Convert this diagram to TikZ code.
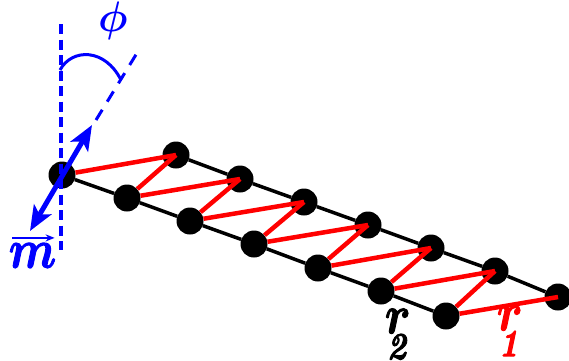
\documentclass[tikz,border=0pt]{standalone}
\usepackage{amsmath}
\usetikzlibrary{arrows.meta}
\newcommand{\heavy}[1]{\special{pdf:code 2 Tr 0.5 w}#1\special{pdf:code 0 Tr}}
\newcommand{\bondlabel}[2]{\heavy{$#1\mkern-8mu_{\lower 8pt\hbox{$\scriptscriptstyle\mathit{#2}$}}$}}
\begin{document}
\begin{tikzpicture}[x=1pt,y=-1pt]
    \tikzset{
        site/.style={circle, fill=black, inner sep=0pt, minimum size=27pt},
        leg/.style={line width=3.5pt, black},
        hop/.style={line width=4.5pt, red},
        guide/.style={line width=3.5pt, blue, dash pattern=on 10pt off 5.5pt},
        tilt/.style={line width=3pt, blue, dash pattern=on 12pt off 9.5pt},
        moment/.style={line width=5pt, blue, {Stealth[length=25pt,width=20pt,inset=6pt]}-{Stealth[length=25pt,width=20pt,inset=6pt]}},
        label/.style={inner sep=0pt, xscale=1.85, yscale=2.2, font=\Huge\boldmath}
    }
    \useasboundingbox (0,0) rectangle (569,360);

    \foreach \name/\x/\y in {%
        t1/176/155, t2/240/179, t3/304/202, t4/368/225, t5/431/248, t6/495/271, t7/558/297,%
        b1/62/175, b2/127/198, b3/190/221, b4/254/244, b5/318/268, b6/381/291, b7/446/316%
    }{
    \node[site] (\name) at (\x,\y) {};
    }
    \foreach \x/\y in {%
        b1/t1, b2/t1, b2/t2, b3/t2, b3/t3, b4/t3, b4/t4, b5/t4, b5/t5, b6/t5, b6/t6, b7/t6, b7/t7%
    }{
    \draw[hop] (\x) -- (\y.center);
    }
    \foreach \x/\y in {%
        t1/t2, t2/t3, t3/t4, t4/t5, t5/t6, t6/t7, b1/b2, b2/b3, b3/b4, b4/b5, b5/b6, b6/b7%
    }{
    \draw[leg] (\x) -- (\y);
    }

    % axes and the moment
    \coordinate (up) at (61,24);
    \coordinate (down) at (61,250);
    \coordinate (tiltstart) at (96,120);
    \coordinate (tiltend) at (137,53);
    \coordinate (arcstart) at (60,70);
    \coordinate (arcend) at (121,80);
    \coordinate (momenttop) at (92,125);
    \coordinate (momentbottom) at (30,231);
    \draw[guide] (up) -- (down);
    \draw[tilt] (tiltstart) -- (tiltend);
    \draw[moment] (momentbottom) -- (momenttop);
    \draw[line width=3pt, blue] (arcstart) .. controls (72,48) and (105,48) .. (arcend);

    \node[label, text=blue, xscale=.9, yscale=.78] (phi) at (113,21) {$\phi$};
    \node[label, text=blue] (m) at (32.5,255.5) {\heavy{$m$}};
    \draw[line width=1.5pt, blue, -{Stealth[length=9pt,width=7pt]}] ([xshift=4pt,yshift=5pt]m.north west) -- ([xshift=-2pt,yshift=5pt]m.north east);
    \node[label] (r2) at (398,334) {\bondlabel{r}{2}};
    \node[label, text=red] (r1) at (510,331) {\bondlabel{r}{1}};
\end{tikzpicture}
\end{document}
